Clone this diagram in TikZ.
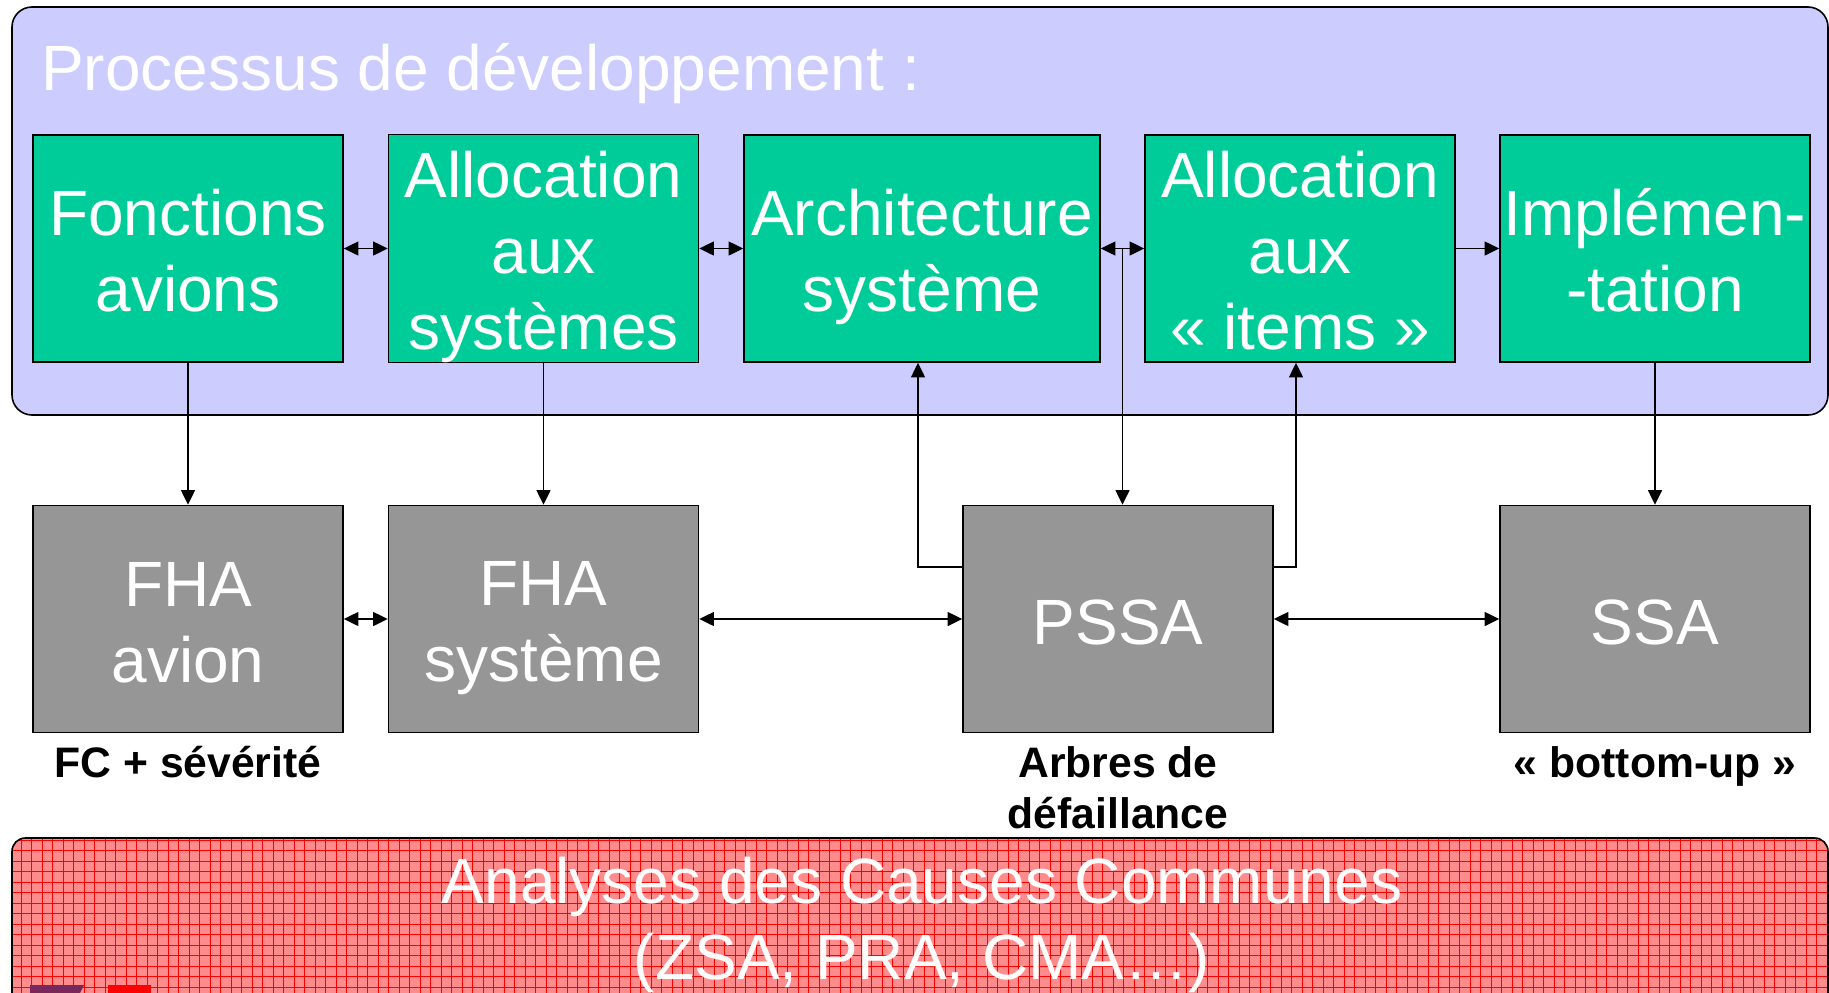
\documentclass[tikz,border=0pt]{standalone}
\usepackage{fontspec}
\setmainfont{Liberation Sans}
\usetikzlibrary{arrows.meta,calc}
\definecolor{procbg}{RGB}{204,204,255}
\definecolor{stepgreen}{RGB}{0,204,153}
\definecolor{safegray}{RGB}{150,150,150}
\definecolor{ccapink}{RGB}{255,140,140}
\definecolor{logopurple}{RGB}{120,40,90}
% uniform line strut so that every box line sits on the same grid
\newcommand\bxs{\rule[-9pt]{0pt}{56pt}}

\begin{document}
\begin{tikzpicture}[x=0.75pt,y=-0.75pt,
  bigtext/.style={font=\fontsize{48}{57}\selectfont},
  devbox/.style={draw=black,line width=1.2pt,fill=stepgreen,text=white,bigtext,align=center,
    inner sep=0pt,minimum width=232.5pt,minimum height=170.25pt},
  safebox/.style={draw=black,line width=1.2pt,fill=safegray,text=white,bigtext,align=center,
    inner sep=0pt,minimum width=232.5pt,minimum height=170.25pt},
  note/.style={font=\fontsize{32}{38}\selectfont\bfseries,align=center,inner sep=0pt},
  link/.style={line width=1.2pt,-{Triangle[length=11pt,width=10.5pt]}},
  dlink/.style={line width=1.2pt,{Triangle[length=11pt,width=10.5pt]}-{Triangle[length=11pt,width=10.5pt]}}
]
\useasboundingbox (0,0) rectangle (1829,993);

% development process panel
\draw[fill=procbg,line width=1.2pt,rounded corners=15pt] (12,7) rectangle (1828,415);
\node[anchor=base west,text=white,bigtext,inner sep=0pt] (title) at (41,90) {Processus de développement :};

% development steps
\node[devbox] (fonc)  at (188,248.5)   {\bxs Fonctions\\\bxs avions};
\node[devbox] (alloc) at (543.5,248.5) {\bxs Allocation\\\bxs aux\\\bxs systèmes};
\node[devbox,minimum width=267pt] (arch) at (922,248.5) {\bxs Architecture\\\bxs système};
\node[devbox] (items) at (1300,248.5)  {\bxs Allocation\\\bxs aux\\\bxs « items »};
\node[devbox] (impl)  at (1655,248.5)  {\bxs Implémen-\\\bxs -tation};

% safety assessments
\node[safebox] (fhaa) at (188,619)   {\bxs FHA\\\bxs avion};
\node[safebox] (fhas) at (543.5,619) {\bxs FHA\\\bxs système};
\node[safebox] (pssa) at (1118,619)  {\bxs PSSA};
\node[safebox] (ssa)  at (1655,619)  {\bxs SSA};

% notes under the boxes
\node[note,anchor=base] (ncf)  at (188,777)  {FC + sévérité};
\node[note,anchor=base] (narb) at (1118,828) {Arbres de\\défaillance};
\node[note,anchor=base] (nbu)  at (1655,777) {« bottom-up »};

% links between development steps
\draw[dlink] (fonc) -- (alloc);
\draw[dlink] (alloc) -- (arch);
\draw[dlink] (arch) -- (items);
\draw[link] (items) -- (impl);

% links between safety assessments
\draw[dlink] (fhaa) -- (fhas);
\draw[dlink] (fhas) -- (pssa);
\draw[dlink] (pssa) -- (ssa);

% links from process to assessments
\draw[link] (fonc) -- (fhaa);
\draw[link] (alloc) -- (fhas);
\draw[link] (impl) -- (ssa);
\coordinate (archmid) at ($(arch.east)!0.5!(items.west)$);
\draw[link] (archmid) -- (archmid |- pssa.north);
\draw[link] ([yshift=39pt]pssa.west) -| ([xshift=-3pt]arch.south);
\draw[link] ([yshift=39pt]pssa.east) -| ([xshift=-3pt]items.south);

% common cause analyses band
\begin{scope}
  \clip[rounded corners=10pt] (12,838) rectangle (1828,1030);
  \fill[ccapink] (0,830) rectangle (1829,1000);
  \draw[red,line width=0.6pt,step=7.875pt] (0,830) grid (1829,1000);
\end{scope}
\draw[line width=1.2pt,rounded corners=10pt] (12,1030) -- (12,838) -- (1828,838) -- (1828,1030);
\node[text=white,bigtext,align=center,inner sep=0pt] (cca) at (922,925)
  {Analyses des Causes Communes\\(ZSA, PRA, CMA…)};

% logo fragments at the lower edge
\fill[logopurple] (30,985) -- (84,985) -- (80,993) -- (30,993) -- cycle;
\fill[red] (108,985) rectangle (151,993);
\end{tikzpicture}
\end{document}
